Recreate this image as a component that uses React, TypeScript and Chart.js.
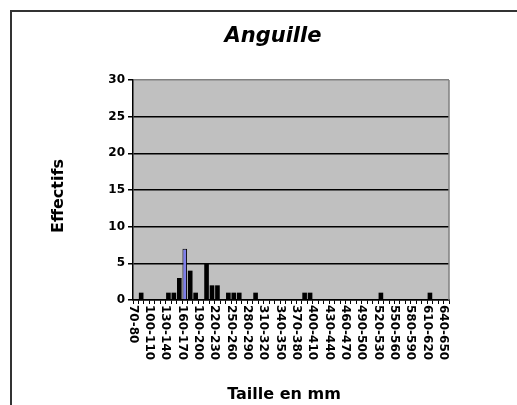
import React, { useEffect, useRef } from "react";
import { Chart, registerables } from "chart.js";

Chart.register(...registerables);

const TITLE = "Anguille";
const X_TITLE = "Taille en mm";
const Y_TITLE = "Effectifs";

const CATEGORIES = [
  "70-80", "80-90", "90-100", "100-110", "110-120", "120-130", "130-140", "140-150",
  "150-160", "160-170", "170-180", "180-190", "190-200", "200-210", "210-220", "220-230",
  "230-240", "240-250", "250-260", "260-270", "270-280", "280-290", "290-300", "300-310",
  "310-320", "320-330", "330-340", "340-350", "350-360", "360-370", "370-380", "380-390",
  "390-400", "400-410", "410-420", "420-430", "430-440", "440-450", "450-460", "460-470",
  "470-480", "480-490", "490-500", "500-510", "510-520", "520-530", "530-540", "540-550",
  "550-560", "560-570", "570-580", "580-590", "590-600", "600-610", "610-620", "620-630",
  "630-640", "640-650",
];

const COUNTS = [
  0, 1, 0, 0, 0, 0, 1, 1, 3, 7,
  4, 1, 0, 5, 2, 2, 0, 1, 1, 1,
  0, 0, 1, 0, 0, 0, 0, 0, 0, 0,
  0, 1, 1, 0, 0, 0, 0, 0, 0, 0,
  0, 0, 0, 0, 0, 1, 0, 0, 0, 0,
  0, 0, 0, 0, 1, 0, 0, 0,
];

const TICK_LABELS = [
  "70-80", "100-110", "130-140", "160-170", "190-200", "220-230", "250-260",
  "280-290", "310-320", "340-350", "370-380", "400-410", "430-440", "460-470",
  "490-500", "520-530", "550-560", "580-590", "610-620", "640-650",
];

const HIGHLIGHT = "160-170";
const Y_MIN = 0;
const Y_MAX = 30;
const Y_STEP = 5;

export default function App() {
  const ref = useRef<HTMLCanvasElement>(null);

  useEffect(() => {
    const canvas = ref.current;
    if (!canvas) return;

    const decor = {
      id: "decor",
      beforeDraw(chart: any) {
        const { ctx, chartArea: a } = chart;
        ctx.save();
        ctx.fillStyle = "#ffffff";
        ctx.fillRect(0, 0, chart.width, chart.height);
        ctx.strokeStyle = "#333333";
        ctx.lineWidth = 2;
        ctx.strokeRect(11, 11, chart.width + 40, chart.height + 40);
        ctx.fillStyle = "#C0C0C0";
        ctx.fillRect(a.left, a.top, a.right - a.left, a.bottom - a.top);
        ctx.restore();
      },
      afterDraw(chart: any) {
        const { ctx, chartArea: a } = chart;
        const xs = chart.scales.x;
        ctx.save();
        ctx.strokeStyle = "#808080";
        ctx.lineWidth = 1.5;
        ctx.beginPath();
        ctx.moveTo(a.right, a.top);
        ctx.lineTo(a.right, a.bottom);
        ctx.stroke();

        ctx.fillStyle = "#000000";
        ctx.font = 'bold 12px "DejaVu Sans"';
        ctx.textAlign = "left";
        ctx.textBaseline = "middle";
        CATEGORIES.forEach((c, i) => {
          if (!TICK_LABELS.includes(c)) return;
          const px = xs.getPixelForValue(i) - 3;
          ctx.save();
          ctx.translate(px, a.bottom + 5);
          ctx.rotate(Math.PI / 2);
          ctx.fillText(c, 0, 0);
          ctx.restore();
        });

        ctx.font = 'italic bold 21px "DejaVu Sans"';
        ctx.textAlign = "center";
        ctx.textBaseline = "alphabetic";
        ctx.fillText(TITLE, 273, 42);

        ctx.font = 'bold 16px "DejaVu Sans"';
        ctx.textBaseline = "middle";
        ctx.fillText(X_TITLE, 284, 395);

        ctx.save();
        ctx.translate(59, 196);
        ctx.rotate(-Math.PI / 2);
        ctx.fillText(Y_TITLE, 0, 0);
        ctx.restore();

        ctx.restore();
      },
    };

    const chart = new Chart(canvas, {
      type: "bar",
      data: {
        labels: CATEGORIES,
        datasets: [
          {
            data: COUNTS,
            backgroundColor: CATEGORIES.map((c) => (c === HIGHLIGHT ? "#7F7FEA" : "#000000")),
            borderColor: "#000000",
            borderWidth: CATEGORIES.map((c) => (c === HIGHLIGHT ? 1 : 0)),
            barPercentage: 0.85,
            categoryPercentage: 1,
          },
        ],
      },
      options: {
        animation: false,
        responsive: false,
        devicePixelRatio: 1,
        layout: { padding: { left: 0, top: 80, right: 68, bottom: 0 } },
        plugins: {
          legend: { display: false },
          tooltip: { enabled: false },
          title: { display: false },
        },
        scales: {
          x: {
            grid: {
              display: true,
              drawOnChartArea: false,
              drawTicks: true,
              tickLength: 4,
              color: "#000000",
              lineWidth: 1,
              offset: true,
            },
            border: { display: true, color: "#000000", width: 1.5 },
            ticks: { display: false },
            afterFit: (s: any) => {
              s.height = 105;
            },
          },
          y: {
            min: Y_MIN,
            max: Y_MAX,
            ticks: {
              stepSize: Y_STEP,
              color: "#000000",
              font: { family: "DejaVu Sans", weight: "bold", size: 12 },
              padding: 3,
            },
            grid: {
              color: (c: any) => (c.tick && c.tick.value === Y_MAX ? "#808080" : "#000000"),
              tickColor: "#000000",
              lineWidth: 1.5,
              tickLength: 5,
            },
            border: { color: "#000000", width: 1.5 },
            afterFit: (s: any) => {
              s.width = 133;
            },
          },
        },
      },
      plugins: [decor],
    } as any);

    return () => chart.destroy();
  }, []);

  return (
    <div style={{ position: "absolute", left: 0, top: 0, width: 517, height: 405 }}>
      <canvas ref={ref} width={517} height={405} style={{ display: "block" }} />
    </div>
  );
}
